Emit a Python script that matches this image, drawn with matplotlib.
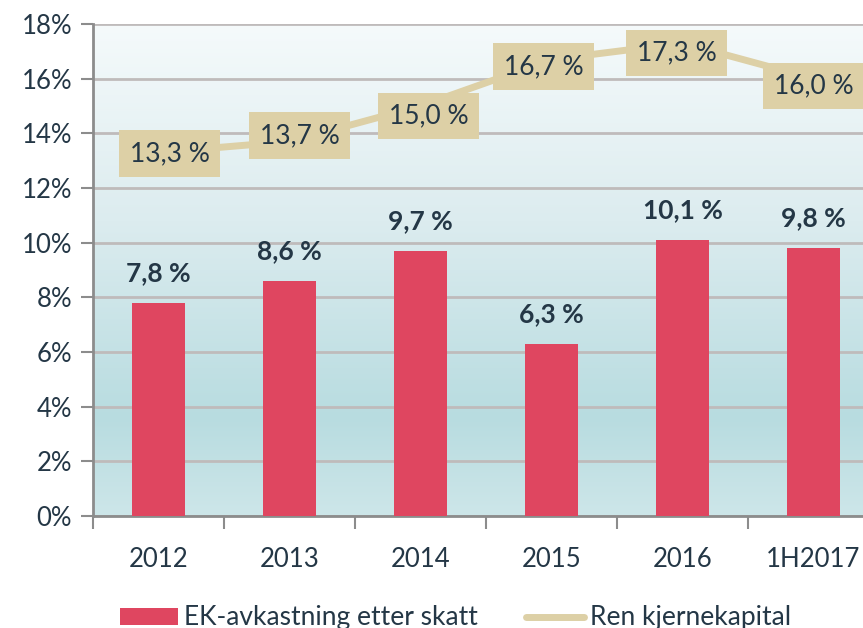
import numpy as np
import matplotlib.pyplot as plt
from matplotlib.colors import LinearSegmentedColormap

plt.rcParams['font.family'] = ['Lato', 'DejaVu Sans']

categories = ['2012', '2013', '2014', '2015', '2016', '1H2017']
ek_avkastning = [7.8, 8.6, 9.7, 6.3, 10.1, 9.8]
ren_kjernekapital = [13.3, 13.7, 15.0, 16.7, 17.3, 16.0]
y_ticks = [0, 2, 4, 6, 8, 10, 12, 14, 16, 18]

# label box offsets (pixels) for the line labels, as placed in the original
box_offsets = [(11, -1), (10, 6), (8, -10), (-8, -7), (-6, -10), (0, -7)]

txt_col = '#243746'
bar_col = '#DF4660'
line_col = '#DDD0A6'

fig = plt.figure(figsize=(8.63, 6.28), dpi=100)
ax = fig.add_axes([93 / 863, 112 / 628, 786 / 863, 492 / 628])

# background gradient
cmap = LinearSegmentedColormap.from_list(
    'bg', [(0, '#CDE6E9'), (0.2, '#B8DCE0'), (0.6, '#DCECEF'), (1, '#F5FAFB')])
grad = np.linspace(0, 1, 256).reshape(-1, 1)
ax.imshow(grad, cmap=cmap, aspect='auto', extent=[0, 1, 0, 1],
          origin='lower', transform=ax.transAxes, zorder=0)

x = np.arange(len(categories))
bars = ax.bar(x, ek_avkastning, width=0.4, color=bar_col, zorder=3)
for xi, v in zip(x, ek_avkastning):
    ax.annotate(f'{v:.1f} %'.replace('.', ','), (xi, v), xytext=(0, 30),
                textcoords='offset pixels', ha='center', va='center',
                fontsize=19, fontweight='bold', color=txt_col, zorder=5)

line, = ax.plot(x, ren_kjernekapital, color=line_col, lw=5, zorder=4,
                solid_capstyle='round')
for xi, v, (dx, dy) in zip(x, ren_kjernekapital, box_offsets):
    ax.annotate(f'{v:.1f} %'.replace('.', ','), (xi, v), xytext=(dx, dy),
                textcoords='offset pixels', ha='center', va='center',
                fontsize=19, color=txt_col, zorder=6,
                bbox=dict(boxstyle='square,pad=0.4', fc=line_col, ec='none'))

ax.set_xlim(-0.5, len(categories) - 0.5)
ax.set_ylim(0, 18)
ax.set_yticks(y_ticks)
ax.set_yticklabels([f'{t}%' for t in y_ticks])
ax.set_xticks(x)
ax.set_xticklabels(categories)
ax.set_xticks(np.arange(len(categories) + 1) - 0.5, minor=True)
ax.tick_params(axis='x', which='major', length=0, pad=22, labelsize=18.5,
               labelcolor=txt_col)
ax.tick_params(axis='x', which='minor', length=9, width=1.5, color='#8C8C8C')
ax.tick_params(axis='y', length=9, width=1.5, color='#8C8C8C', pad=6,
               labelsize=18.5, labelcolor=txt_col)

ax.grid(axis='y', color='#BFBBBB', lw=2, zorder=1)
ax.set_axisbelow(True)
for s in ['top', 'right']:
    ax.spines[s].set_visible(False)
for s in ['left', 'bottom']:
    ax.spines[s].set_color('#8C8C8C')
    ax.spines[s].set_linewidth(2)

# legend sits at the very bottom edge, as in the original
fig.legend([bars, line], ['EK-avkastning etter skatt', 'Ren kjernekapital'],
           loc='center', bbox_to_anchor=(0.528, 0.016), ncol=2, frameon=False,
           fontsize=19, labelcolor=txt_col, handlelength=2.2, handleheight=0.6,
           handletextpad=0.25, columnspacing=1.8)

fig.savefig('out.png', dpi=100)
